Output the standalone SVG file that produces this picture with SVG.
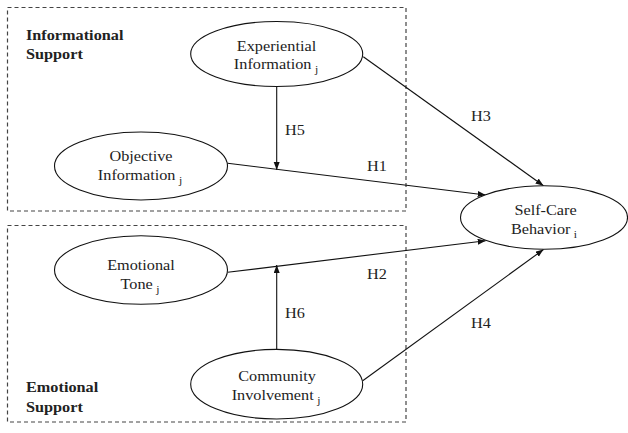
<svg xmlns="http://www.w3.org/2000/svg" width="628" height="433" viewBox="0 0 628 433">
<style>
.box{fill:none;stroke:#444;stroke-width:1.2;stroke-dasharray:4 3}
.node{fill:#fff;stroke:#111;stroke-width:1.1}
.lbl{font-family:"Liberation Serif","Times New Roman",serif;font-size:14px;fill:#222}
.grp{font-family:"Liberation Serif","Times New Roman",serif;font-size:14px;font-weight:bold;fill:#222}
.sub{font-size:10px}
.edge{fill:none;stroke:#111;stroke-width:1.1;marker-end:url(#ah)}
</style>
<defs>
<marker id="ah" markerUnits="userSpaceOnUse" markerWidth="9" markerHeight="7" refX="8" refY="3" orient="auto">
<path d="M0,0 L8,3 L0,6 z" fill="#111"/>
</marker>
</defs>
<rect width="628" height="433" fill="#fff"/>
<g id="informational-support">
<rect class="box" x="7.5" y="7.5" width="398.5" height="203.5"/>
<text class="grp" transform="translate(26 39.5) scale(1.16 1)">Informational</text>
<text class="grp" transform="translate(26 58.5) scale(1.16 1)">Support</text>
</g>
<g id="emotional-support">
<rect class="box" x="7.5" y="225.5" width="398.5" height="196.5"/>
<text class="grp" transform="translate(26 391.5) scale(1.16 1)">Emotional</text>
<text class="grp" transform="translate(26 411.5) scale(1.16 1)">Support</text>
</g>
<g id="connectors">
<line class="edge" x1="363.3" y1="56.7" x2="543.5" y2="185.7"/>
<line class="edge" x1="227.7" y1="163.3" x2="485.7" y2="195"/>
<line class="edge" x1="227.7" y1="272.3" x2="485.7" y2="240.7"/>
<line class="edge" x1="362.7" y1="380.7" x2="543.5" y2="249.5"/>
<line class="edge" x1="276.7" y1="86.5" x2="276.7" y2="170"/>
<line class="edge" x1="276.7" y1="349.4" x2="276.7" y2="265"/>
<text class="lbl" transform="translate(285 135) scale(1.16 1)">H5</text>
<text class="lbl" transform="translate(367 170.5) scale(1.16 1)">H1</text>
<text class="lbl" transform="translate(471 121) scale(1.16 1)">H3</text>
<text class="lbl" transform="translate(367 279) scale(1.16 1)">H2</text>
<text class="lbl" transform="translate(285 318) scale(1.16 1)">H6</text>
<text class="lbl" transform="translate(471 328) scale(1.16 1)">H4</text>
</g>
<g id="experiential-information">
<ellipse class="node" cx="276.7" cy="54" rx="86" ry="32.5"/>
<text class="lbl" text-anchor="middle" transform="translate(276.5 50.5) scale(1.16 1)">Experiential</text>
<text class="lbl" text-anchor="middle" transform="translate(276 69) scale(1.16 1)">Information<tspan class="sub" dx="3" dy="4">j</tspan></text>
</g>
<g id="objective-information">
<ellipse class="node" cx="141" cy="166" rx="86.5" ry="34"/>
<text class="lbl" text-anchor="middle" transform="translate(141 160.5) scale(1.16 1)">Objective</text>
<text class="lbl" text-anchor="middle" transform="translate(140 180) scale(1.16 1)">Information<tspan class="sub" dx="3" dy="4">j</tspan></text>
</g>
<g id="emotional-tone">
<ellipse class="node" cx="141" cy="270" rx="86.5" ry="34.3"/>
<text class="lbl" text-anchor="middle" transform="translate(141 269.5) scale(1.16 1)">Emotional</text>
<text class="lbl" text-anchor="middle" transform="translate(140 289) scale(1.16 1)">Tone<tspan class="sub" dx="3" dy="4">j</tspan></text>
</g>
<g id="community-involvement">
<ellipse class="node" cx="276.7" cy="384.2" rx="86" ry="34.8"/>
<text class="lbl" text-anchor="middle" transform="translate(277 381) scale(1.16 1)">Community</text>
<text class="lbl" text-anchor="middle" transform="translate(276 400) scale(1.16 1)">Involvement<tspan class="sub" dx="3" dy="4">j</tspan></text>
</g>
<g id="self-care-behavior">
<ellipse class="node" cx="544" cy="217.5" rx="83.5" ry="31.8"/>
<text class="lbl" text-anchor="middle" transform="translate(545.5 215) scale(1.16 1)">Self-Care</text>
<text class="lbl" text-anchor="middle" transform="translate(544 234) scale(1.16 1)">Behavior<tspan class="sub" dx="3" dy="4">i</tspan></text>
</g>
</svg>
